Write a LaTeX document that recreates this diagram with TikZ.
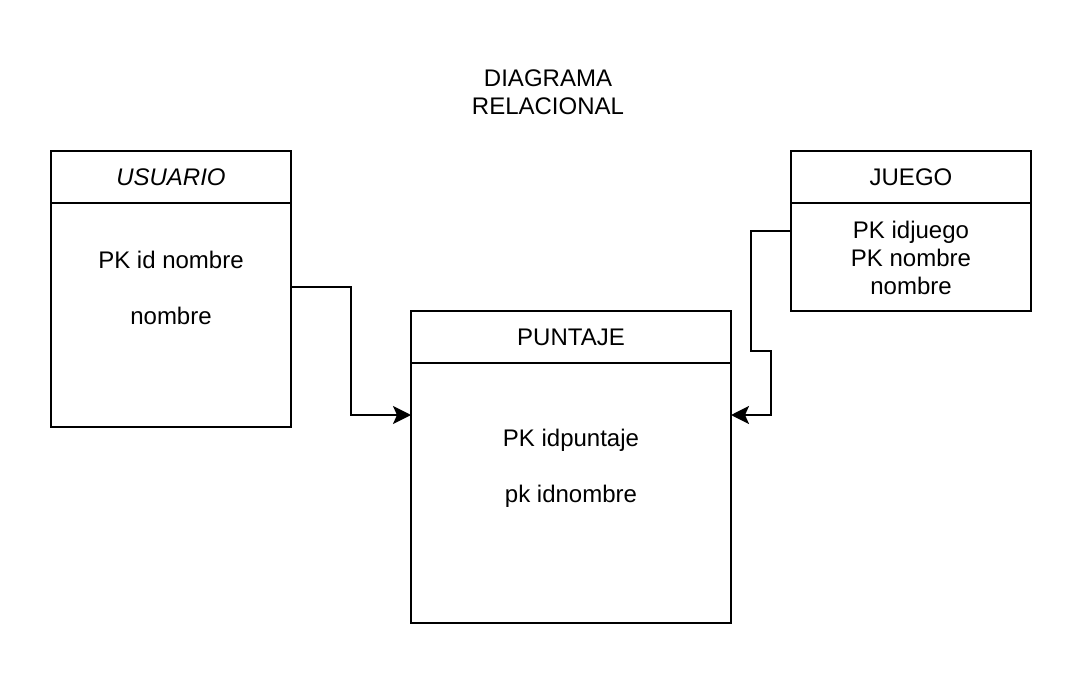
\documentclass[tikz,border=0pt]{standalone}
\usepackage{fontspec}
\setmainfont{Liberation Sans}
\usetikzlibrary{arrows.meta,calc}
\begin{document}
\begin{tikzpicture}[x=0.75pt,y=-0.75pt,
  box/.style={draw,line width=1.5pt,minimum width=180pt,inner sep=0pt,outer sep=0pt},
  wbox/.style={box,minimum width=240pt},
  txt/.style={align=center,font=\fontsize{18}{21}\selectfont,inner sep=0pt},
  conn/.style={line width=1.5pt,-{Stealth[length=13.5pt,width=13.5pt,inset=3pt]}}]
\useasboundingbox (0,0) rectangle (1082,674);
\node[txt] (title) at (548,92) {DIAGRAMA\\RELACIONAL};
% USUARIO
\node[box,minimum height=39pt] (usuarioH) at (171,177) {};
\node[box,minimum height=168pt] (usuarioB) at (171,315) {};
\node[txt,font=\fontsize{18}{21}\selectfont\itshape] (usuarioN) at (usuarioH) {USUARIO};
\node[txt] (usuarioT) at (171,288) {PK id nombre\\ \\nombre};
% JUEGO
\node[box,minimum height=39pt] (juegoH) at (911,177) {};
\node[box,minimum height=81pt] (juegoB) at (911,257) {};
\node[txt] (juegoN) at (juegoH) {JUEGO};
\node[txt] (juegoT) at (911,258) {PK idjuego\\PK nombre\\nombre};
% PUNTAJE
\node[wbox,minimum height=39pt] (puntajeH) at (571,337) {};
\node[wbox,minimum height=195pt] (puntajeB) at (571,493) {};
\node[txt] (puntajeN) at (puntajeH) {PUNTAJE};
\node[txt] (puntajeT) at (571,468) {PK idpuntaje\\ \\pk idnombre};
% connectors
\coordinate (uOut) at ($(usuarioB.north east)+(0,84)$);
\coordinate (pInL) at ($(puntajeB.north west)+(0,52)$);
\coordinate (jOut) at ($(juegoB.north west)+(0,28)$);
\coordinate (pInR) at ($(puntajeB.north east)+(0,52)$);
\draw[conn] (uOut) -- ++(60,0) |- (pInL);
\draw[conn] (jOut) -- ++(-40,0) -- ++(0,120) -- ++(20,0) |- (pInR);
\end{tikzpicture}
\end{document}
